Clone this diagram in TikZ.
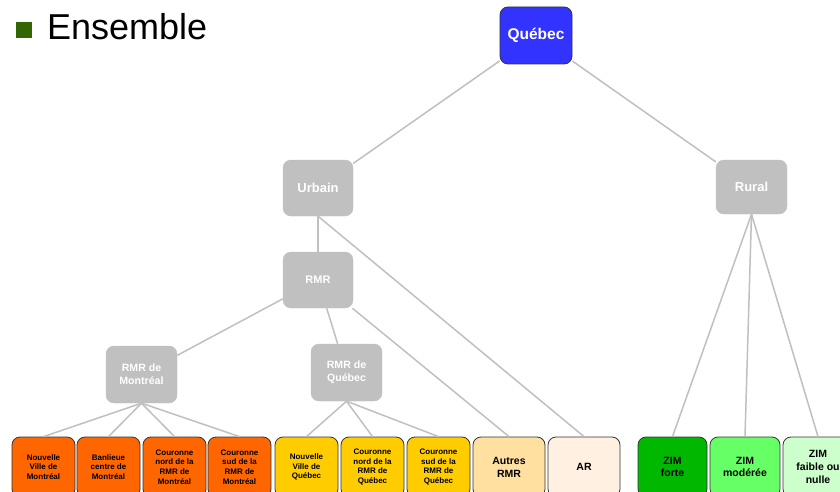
\documentclass[tikz,border=0pt]{standalone}
\usepackage{fontspec}
\setmainfont{Liberation Sans}
\definecolor{qblue}{HTML}{3333FF}
\definecolor{gbox}{HTML}{C0C0C0}
\definecolor{orng}{HTML}{FF6600}
\definecolor{yell}{HTML}{FFCC00}
\definecolor{lorng}{HTML}{FFE0A0}
\definecolor{pale}{HTML}{FFF0E2}
\definecolor{zg1}{HTML}{00B800}
\definecolor{zg2}{HTML}{66FF66}
\definecolor{zg3}{HTML}{CCFFCC}
\definecolor{bullet}{HTML}{336600}
\definecolor{bord}{HTML}{333333}
\begin{document}
\begin{tikzpicture}[x=1pt,y=-1pt,
  base/.style={rectangle,rounded corners=8pt,inner sep=0pt,align=center,font=\bfseries},
  graynode/.style={base,fill=gbox,draw=gbox,text=white},
  leaf/.style={base,draw=bord,line width=0.8pt,minimum height=60pt},
  small/.style={font=\fontsize{8}{9.6}\selectfont\bfseries},
  mid/.style={font=\fontsize{10.5}{12.8}\selectfont\bfseries},
  conn/.style={draw=gbox,line width=1.5pt}]
\useasboundingbox (0,0) rectangle (840,492);
\fill[white] (0,0) rectangle (840,492);
% title
\fill[bullet] (16,22) rectangle (32,38);
\node[anchor=base west,inner sep=0pt,font=\fontsize{36}{40}\selectfont] (title) at (47,40) {Ensemble};
% upper nodes
\node[base,fill=qblue,draw=bord,line width=0.8pt,text=white,minimum width=72pt,minimum height=57pt,font=\fontsize{15.5}{18}\selectfont\bfseries] (Q) at (536,35.5) {Québec};
\node[graynode,minimum width=70pt,minimum height=56pt,font=\fontsize{13}{15}\selectfont\bfseries] (U) at (318,188) {Urbain};
\node[graynode,minimum width=71pt,minimum height=54pt,font=\fontsize{13}{15}\selectfont\bfseries] (Ru) at (751.5,187) {Rural};
\node[graynode,minimum width=70pt,minimum height=56pt,font=\fontsize{11}{13}\selectfont\bfseries] (RMR) at (318,280) {RMR};
\node[graynode,minimum width=71pt,minimum height=57pt,font=\fontsize{10.6}{13.3}\selectfont\bfseries] (RM) at (141.5,374.5) {RMR de\\Montréal};
\node[graynode,minimum width=71pt,minimum height=57pt,font=\fontsize{10.6}{13.3}\selectfont\bfseries] (RQ) at (346.5,372.5) {RMR de\\Québec};
% leaves
\node[leaf,small,fill=orng,minimum width=63pt] (b1) at (43.5,467) {Nouvelle\\Ville de\\Montréal};
\node[leaf,small,fill=orng,minimum width=63pt] (b2) at (108.5,467) {Banlieue\\centre de\\Montréal};
\node[leaf,small,fill=orng,minimum width=63pt] (b3) at (174.5,467) {Couronne\\nord de la\\RMR de\\Montréal};
\node[leaf,small,fill=orng,minimum width=63pt] (b4) at (239.5,467) {Couronne\\sud de la\\RMR de\\Montréal};
\node[leaf,small,fill=yell,minimum width=63pt] (b5) at (306.5,467) {Nouvelle\\Ville de\\Québec};
\node[leaf,small,fill=yell,minimum width=63pt] (b6) at (372.5,467) {Couronne\\nord de la\\RMR de\\Québec};
\node[leaf,small,fill=yell,minimum width=63pt] (b7) at (438.5,467) {Couronne\\sud de la\\RMR de\\Québec};
\node[leaf,mid,fill=lorng,minimum width=72pt] (b8) at (509,467) {Autres\\RMR};
\node[leaf,mid,fill=pale,minimum width=72pt] (b9) at (584,467) {AR};
\node[leaf,mid,fill=zg1,minimum width=69pt] (z1) at (672.5,467) {ZIM\\forte};
\node[leaf,mid,fill=zg2,minimum width=70pt] (z2) at (745,467) {ZIM\\modérée};
\node[leaf,mid,fill=zg3,minimum width=70pt] (z3) at (818,467) {ZIM\\faible ou\\nulle};
% connectors
\draw[conn] (Q) -- (U);
\draw[conn] (Q) -- (Ru);
\draw[conn] (U.south) -- (RMR.north);
\draw[conn] (U.south) -- (b9.north);
\draw[conn] (RMR) -- (RM);
\draw[conn] (RMR) -- (RQ);
\draw[conn] (RMR) -- (b8.north);
\foreach \c in {b1,b2,b3,b4} \draw[conn] (RM.south) -- (\c.north);
\foreach \c in {b5,b6,b7} \draw[conn] (RQ.south) -- (\c.north);
\foreach \c in {z1,z2,z3} \draw[conn] (Ru.south) -- (\c.north);
\end{tikzpicture}
\end{document}
